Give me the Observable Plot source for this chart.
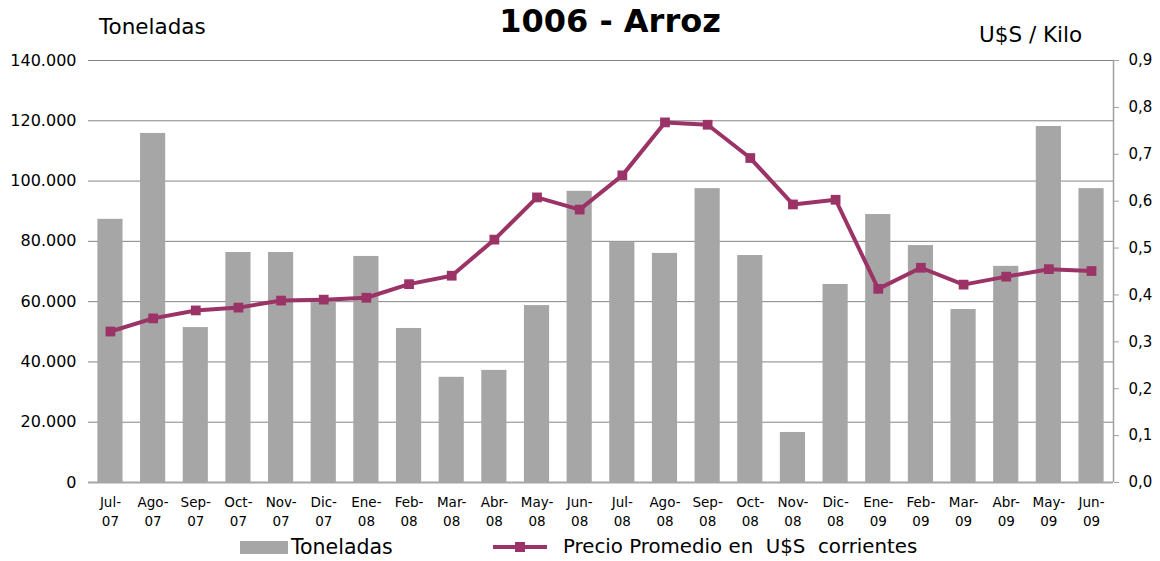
<!DOCTYPE html>
<html><head><meta charset="utf-8">
<script src="https://cdn.jsdelivr.net/npm/d3@7"></script>
<script src="https://cdn.jsdelivr.net/npm/@observablehq/plot@0.6"></script>
<style>
body{margin:0;background:#fff;font-family:"DejaVu Sans",Verdana,sans-serif;}
#wrap{position:relative;width:1160px;height:561px;}
.lab{position:absolute;white-space:nowrap;color:#000;}
</style></head><body>
<div id="wrap">
  <div id="chart"></div>
  <div class="lab" style="left:0;width:1220px;text-align:center;top:2px;font-size:32px;font-weight:bold;">1006 - Arroz</div>
  <div class="lab" style="left:99px;top:14px;font-size:21.5px;">Toneladas</div>
  <div class="lab" style="left:979px;top:22px;font-size:21.5px;">U$S / Kilo</div>
  <div class="lab" style="left:240px;top:535px;font-size:20.5px;display:flex;align-items:center;">
    <span style="display:inline-block;width:48px;height:13px;background:#a6a6a6;margin-right:3px;"></span>Toneladas
  </div>
  <div class="lab" style="left:493px;top:535px;font-size:19.8px;display:flex;align-items:center;">
    <svg width="54" height="14" style="margin-right:16px"><line x1="0" y1="7" x2="54" y2="7" stroke="#9b3366" stroke-width="4"/><rect x="22" y="2" width="10" height="10" fill="#9b3366"/></svg>Precio Promedio en&nbsp; U$S&nbsp; corrientes
  </div>
</div>
<script>
const meses = ["Jul-\n07","Ago-\n07","Sep-\n07","Oct-\n07","Nov-\n07","Dic-\n07","Ene-\n08","Feb-\n08","Mar-\n08","Abr-\n08","May-\n08","Jun-\n08",
               "Jul-\n08","Ago-\n08","Sep-\n08","Oct-\n08","Nov-\n08","Dic-\n08","Ene-\n09","Feb-\n09","Mar-\n09","Abr-\n09","May-\n09","Jun-\n09"];
const toneladas = [87300,115800,51400,76300,76300,60200,75000,51100,34900,37200,58700,96600,
                   79600,76000,97500,75300,16600,65700,88900,78600,57400,71700,118100,97500];
const precio = [0.322,0.350,0.367,0.373,0.388,0.390,0.394,0.423,0.441,0.518,0.608,0.582,
                0.655,0.768,0.763,0.692,0.593,0.603,0.413,0.458,0.422,0.439,0.455,0.451];
const ticksTon = [0,20000,40000,60000,80000,100000,120000,140000];
const ticksPrecio = [0,0.1,0.2,0.3,0.4,0.5,0.6,0.7,0.8,0.9];

const k = 140000/0.9;
const data = meses.map((m,i)=>({mes:m, ton:toneladas[i], precio:precio[i]}));
const loc = d3.formatLocale({decimal:",",thousands:".",grouping:[3],currency:["$",""]});
const fTon = loc.format(",");
const color = "#9b3366";

const chart = Plot.plot({
  width:1160, height:532,
  marginTop:60, marginBottom:50, marginLeft:88, marginRight:47,
  style:{fontFamily:"DejaVu Sans, Verdana, sans-serif", fontSize:"13px", color:"#000", background:"#fff"},
  x:{domain:meses, paddingInner:0.41, paddingOuter:0.22, round:false, label:null},
  y:{domain:[0,140000], label:null},
  marks:[
    Plot.gridY(ticksTon, {stroke:"#858585", strokeOpacity:1, strokeWidth:1}),
    Plot.barY(data, {x:"mes", y:"ton", fill:"#a6a6a6"}),
    Plot.ruleY([0], {stroke:"#a6a6a6", strokeWidth:2}),
    Plot.axisY(ticksTon, {anchor:"left", tickFormat:fTon, tickSize:0, tickPadding:12, fontSize:16, label:null}),
    Plot.axisY(ticksPrecio.map(v=>v*k), {anchor:"right", tickFormat:d=>(d/k).toFixed(1).replace(".",","), tickSize:5, tickPadding:10, fontSize:15, stroke:"#a0a0a0", label:null}),
    Plot.axisX({tickSize:0, tickPadding:11, fontSize:13.5, lineHeight:1.4, label:null}),
    Plot.line(data, {x:"mes", y:d=>d.precio*k, stroke:color, strokeWidth:4}),
    Plot.dot(data, {x:"mes", y:d=>d.precio*k, symbol:"square", r:5.5, fill:color, stroke:null})
  ]
});
// right axis vertical line
const svg = d3.select(chart);
svg.append("line").attr("x1",1113.5).attr("x2",1113.5).attr("y1",60).attr("y2",482).attr("stroke","#a0a0a0").attr("stroke-width",1.5);
document.getElementById("chart").appendChild(chart);
</script>
</body></html>
